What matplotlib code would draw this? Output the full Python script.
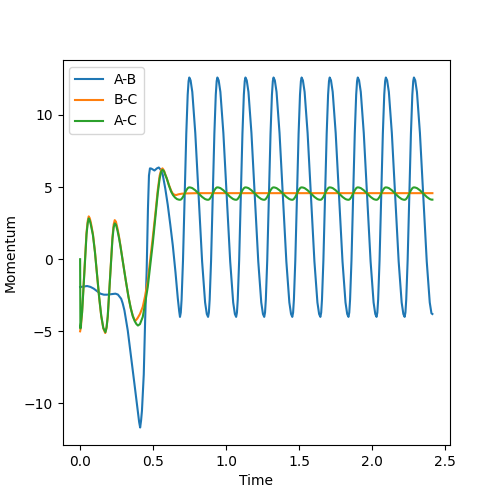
import matplotlib
matplotlib.use('Agg')
import matplotlib.pyplot as plt

# time points of the early (irregular) part, per bond
t_ab_start = [0.000, 0.048, 0.0706, 0.0933, 0.1166, 0.139, 0.163, 0.185, 0.215, 0.242,
              0.259, 0.2812, 0.2915, 0.3038, 0.3265, 0.3498, 0.3724, 0.395, 0.4047, 0.4115,
              0.4177, 0.4239, 0.4362, 0.4458, 0.4561, 0.465, 0.4719, 0.4787, 0.489, 0.5096,
              0.5267, 0.539, 0.5528, 0.5665, 0.5837, 0.6008, 0.618, 0.6351, 0.6536, 0.6694, 0.679]
ab_start = [-1.93, -1.86, -1.92, -2.04, -2.22, -2.39, -2.46, -2.46, -2.42, -2.39,
            -2.45, -2.74, -3.05, -3.55, -4.94, -6.8, -8.65, -10.5, -11.3, -11.67,
            -11.2, -10.5, -8.0, -4.2, -0.8, 3.5, 5.8, 6.3, 6.28, 6.15,
            6.3, 6.36, 6.2, 5.85, 4.9, 3.76, 2.4, 0.97, -0.9, -2.7, -3.6]

t_ac_start = [0.000, 0.002, 0.0137, 0.0288, 0.0439, 0.0521, 0.059, 0.0658, 0.0734, 0.0878,
              0.1015, 0.1163, 0.1303, 0.1447, 0.1591, 0.1735, 0.1818, 0.1893, 0.2054, 0.2215,
              0.2298, 0.2373, 0.2455, 0.2558, 0.2661, 0.2764, 0.2949, 0.3134, 0.3313, 0.3471,
              0.3608, 0.3745, 0.3861, 0.3964, 0.4102, 0.4294, 0.4465, 0.4636, 0.4808, 0.4979,
              0.5151, 0.5322, 0.5453, 0.5556, 0.5645, 0.5748, 0.5816, 0.594, 0.609, 0.6241,
              0.6365, 0.6502, 0.6639, 0.6763]
ac_start = [0.0, -4.8, -3.7, -0.99, 1.72, 2.5, 2.83, 2.7, 2.4, 1.67,
            0.5, -1.12, -2.6, -3.91, -4.77, -5.06, -4.7, -3.96, -1.29, 1.38,
            2.2, 2.48, 2.4, 2.0, 1.5, 0.9, -0.3, -1.5, -2.6, -3.4,
            -3.95, -4.3, -4.5, -4.6, -4.5, -4.0, -3.0, -1.93, -0.4, 1.09,
            2.8, 4.57, 5.6, 6.08, 6.2, 6.1, 5.9, 5.6, 5.1, 4.68,
            4.45, 4.28, 4.17, 4.13]

# B-C settles early, so it has its own (sparser) time points
t_bc = [0.000, 0.0055, 0.0137, 0.0288, 0.0439, 0.0521, 0.059, 0.0658, 0.0734, 0.0878,
        0.1015, 0.1163, 0.1303, 0.1447, 0.1591, 0.1722, 0.1804, 0.1893, 0.2054, 0.2215,
        0.2298, 0.2373, 0.2455, 0.2558, 0.2661, 0.2764, 0.2949, 0.3134, 0.3313, 0.3471,
        0.3608, 0.3724, 0.3813, 0.393, 0.4102, 0.4294, 0.4465, 0.4636, 0.4808, 0.4979,
        0.5151, 0.5322, 0.5453, 0.5556, 0.5645, 0.5748, 0.5816, 0.594, 0.609, 0.6241,
        0.6351, 0.6468, 0.6584, 0.6742, 0.6948, 0.7222, 0.8, 1.2, 1.6, 2.0, 2.4145]
mom_bc = [-5.0, -4.7, -3.6, -0.9, 1.85, 2.65, 2.97, 2.85, 2.55, 1.75,
          0.55, -1.1, -2.65, -3.95, -4.8, -5.12, -4.8, -4.0, -1.25, 1.5,
          2.4, 2.71, 2.6, 2.15, 1.6, 0.95, -0.3, -1.5, -2.6, -3.4,
          -3.9, -4.2, -4.25, -4.1, -3.8, -3.3, -2.5, -1.5, 0.0, 1.5,
          3.1, 4.8, 5.8, 6.2, 6.3, 6.15, 5.95, 5.6, 5.15, 4.75,
          4.55, 4.47, 4.45, 4.5, 4.54, 4.56, 4.58, 4.58, 4.58, 4.58, 4.58]

# time points of the regular oscillation (shared by A-B and A-C)
t_osc = [0.6845, 0.690, 0.6955, 0.7051, 0.7164, 0.7277, 0.7373, 0.7435, 0.7483, 0.7572, 0.7689, 0.7894, 0.8128, 0.8361, 0.8567, 0.8683,
         0.877, 0.8825, 0.888, 0.8976, 0.9089, 0.9202, 0.9298, 0.936, 0.9408, 0.9497, 0.9614, 0.9819, 1.0053, 1.0286, 1.0492, 1.0608,
         1.0694, 1.0749, 1.0804, 1.090, 1.1013, 1.1126, 1.1222, 1.1284, 1.1332, 1.1421, 1.1538, 1.1743, 1.1977, 1.221, 1.2416, 1.2532,
         1.2619, 1.2674, 1.2729, 1.2825, 1.2938, 1.3051, 1.3147, 1.3209, 1.3257, 1.3346, 1.3463, 1.3668, 1.3902, 1.4135, 1.4341, 1.4457,
         1.4543, 1.4598, 1.4653, 1.4749, 1.4862, 1.4975, 1.5071, 1.5133, 1.5181, 1.527, 1.5387, 1.5592, 1.5826, 1.6059, 1.6265, 1.6381,
         1.6468, 1.6523, 1.6578, 1.6674, 1.6787, 1.69, 1.6996, 1.7058, 1.7106, 1.7195, 1.7312, 1.7517, 1.7751, 1.7984, 1.819, 1.8306,
         1.8393, 1.8448, 1.8503, 1.8599, 1.8712, 1.8825, 1.8921, 1.8983, 1.9031, 1.912, 1.9237, 1.9442, 1.9676, 1.9909, 2.0115, 2.0231,
         2.0317, 2.0372, 2.0427, 2.0523, 2.0636, 2.0749, 2.0845, 2.0907, 2.0955, 2.1044, 2.1161, 2.1366, 2.16, 2.1833, 2.2039, 2.2155,
         2.2242, 2.2297, 2.2352, 2.2448, 2.2561, 2.2674, 2.277, 2.2832, 2.288, 2.2969, 2.3086, 2.3291, 2.3525, 2.3758, 2.3964, 2.408,
         2.4145]
ab_osc = [-4.0, -3.7, -2.8, -0.1, 4.3, 8.7, 11.4, 12.35, 12.6, 12.4, 11.6, 8.75, 4.3, -0.15, -3.0, -3.8,
          -4.0, -3.7, -2.8, -0.1, 4.3, 8.7, 11.4, 12.35, 12.6, 12.4, 11.6, 8.75, 4.3, -0.15, -3.0, -3.8,
          -4.0, -3.7, -2.8, -0.1, 4.3, 8.7, 11.4, 12.35, 12.6, 12.4, 11.6, 8.75, 4.3, -0.15, -3.0, -3.8,
          -4.0, -3.7, -2.8, -0.1, 4.3, 8.7, 11.4, 12.35, 12.6, 12.4, 11.6, 8.75, 4.3, -0.15, -3.0, -3.8,
          -4.0, -3.7, -2.8, -0.1, 4.3, 8.7, 11.4, 12.35, 12.6, 12.4, 11.6, 8.75, 4.3, -0.15, -3.0, -3.8,
          -4.0, -3.7, -2.8, -0.1, 4.3, 8.7, 11.4, 12.35, 12.6, 12.4, 11.6, 8.75, 4.3, -0.15, -3.0, -3.8,
          -4.0, -3.7, -2.8, -0.1, 4.3, 8.7, 11.4, 12.35, 12.6, 12.4, 11.6, 8.75, 4.3, -0.15, -3.0, -3.8,
          -4.0, -3.7, -2.8, -0.1, 4.3, 8.7, 11.4, 12.35, 12.6, 12.4, 11.6, 8.75, 4.3, -0.15, -3.0, -3.8,
          -4.0, -3.7, -2.8, -0.1, 4.3, 8.7, 11.4, 12.35, 12.6, 12.4, 11.6, 8.75, 4.3, -0.15, -3.0, -3.75,
          -3.8]
ac_osc = [4.12, 4.135, 4.18, 4.32, 4.55, 4.78, 4.92, 4.97, 4.98, 4.97, 4.93, 4.78, 4.55, 4.32, 4.17, 4.13,
          4.12, 4.135, 4.18, 4.32, 4.55, 4.78, 4.92, 4.97, 4.98, 4.97, 4.93, 4.78, 4.55, 4.32, 4.17, 4.13,
          4.12, 4.135, 4.18, 4.32, 4.55, 4.78, 4.92, 4.97, 4.98, 4.97, 4.93, 4.78, 4.55, 4.32, 4.17, 4.13,
          4.12, 4.135, 4.18, 4.32, 4.55, 4.78, 4.92, 4.97, 4.98, 4.97, 4.93, 4.78, 4.55, 4.32, 4.17, 4.13,
          4.12, 4.135, 4.18, 4.32, 4.55, 4.78, 4.92, 4.97, 4.98, 4.97, 4.93, 4.78, 4.55, 4.32, 4.17, 4.13,
          4.12, 4.135, 4.18, 4.32, 4.55, 4.78, 4.92, 4.97, 4.98, 4.97, 4.93, 4.78, 4.55, 4.32, 4.17, 4.13,
          4.12, 4.135, 4.18, 4.32, 4.55, 4.78, 4.92, 4.97, 4.98, 4.97, 4.93, 4.78, 4.55, 4.32, 4.17, 4.13,
          4.12, 4.135, 4.18, 4.32, 4.55, 4.78, 4.92, 4.97, 4.98, 4.97, 4.93, 4.78, 4.55, 4.32, 4.17, 4.13,
          4.12, 4.135, 4.18, 4.32, 4.55, 4.78, 4.92, 4.97, 4.98, 4.97, 4.93, 4.78, 4.55, 4.32, 4.17, 4.13,
          4.13]

t_ab = t_ab_start + t_osc
mom_ab = ab_start + ab_osc
t_ac = t_ac_start + t_osc
mom_ac = ac_start + ac_osc

fig, ax = plt.subplots(figsize=(5, 5), dpi=100)
ax.plot(t_ab, mom_ab, label='A-B')
ax.plot(t_bc, mom_bc, label='B-C')
ax.plot(t_ac, mom_ac, label='A-C')
ax.set_xlabel('Time')
ax.set_ylabel('Momentum')
ax.legend(loc='upper left')

plt.savefig('out.png')
